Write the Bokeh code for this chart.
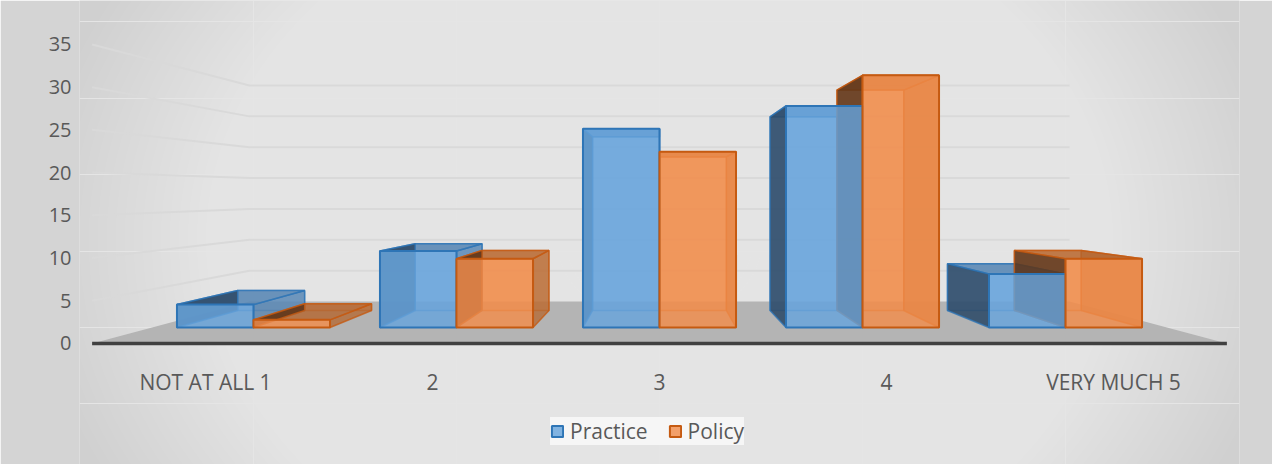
from bokeh.plotting import figure
from bokeh.models import (FactorRange, Range1d, LinearAxis, FixedTicker, Legend, LegendItem,
                          ColumnDataSource)
from bokeh.core.properties import value
from bokeh.transform import dodge
from bokeh.embed import file_html
from bokeh.resources import INLINE

# ---------------- data ----------------
categories = ["NOT AT ALL 1", "2", "3", "4", "VERY MUCH 5"]
practice = [3, 10, 26, 29, 7]
policy = [1, 9, 23, 33, 9]
series_names = ["Practice", "Policy"]
y_ticks = [0, 5, 10, 15, 20, 25, 30, 35]

# ---------------- layout / style constants ----------------
W, H = 1272, 464
BL, BR = 79, 33
BAR_W = 0.377                 # bar width in category units
VU, VV = 2.5, 17.668          # vanishing point (front-plane coordinates)
F_AXIS, F_BACK, F_WALL = 1.118, 0.874, 0.808   # perspective scale of planes
LABEL_V = -4.45               # category label baseline (axis-plane units)
TXT = "#595959"
FONT = "Open Sans"

styles = {
    "Practice": dict(front="#66a3dc", line="#2e75b6", left="#2c4a68", right="#5583b0", top="#5583b0"),
    "Policy": dict(front="#f28c4a", line="#c55a11", left="#5e3519", right="#b4652e", top="#b4652e"),
}

p = figure(width=W, height=H, output_backend="svg", toolbar_location=None,
           x_range=FactorRange(factors=categories, range_padding=0.3571, range_padding_units="absolute"),
           y_range=Range1d(-17.930, 42.795),
           x_axis_location=None, y_axis_location=None,
           min_border_left=BL, min_border_right=BR, min_border_top=0, min_border_bottom=0,
           background_fill_color="#d0d0d0", border_fill_color="#d4d4d4",
           outline_line_color=None)
p.extra_x_ranges = {"axisx": FactorRange(factors=categories, range_padding=0.0551, range_padding_units="absolute")}
p.extra_y_ranges = {"axisy": Range1d(-14.164, 40.15)}


def proj(u, v, f):
    return VU + f * (u - VU), VV + f * (v - VV)


# ---------------- radial-ish background ----------------
for k in range(60):
    w = 1250 - k * 18
    p.ellipse(x=[VU], y=[11.4], width=[w], height=[w * 0.8], width_units="screen",
              height_units="screen", fill_color="white", fill_alpha=0.037, line_color=None)

# ---------------- floor ----------------
fx, fy = [], []
for (u, f) in [(0, F_AXIS), (5, F_AXIS), (5, F_WALL), (0, F_WALL)]:
    x, y = proj(u, 0, f)
    fx.append(x); fy.append(y)
p.patch(fx, fy, fill_color="#b4b4b4", line_color=None)

# ---------------- wall gridlines ----------------
gx, gy = [], []
for v in y_ticks[1:]:
    pts = [proj(0, v, F_AXIS), proj(0, v, F_WALL), proj(5, v, F_WALL)]
    gx.append([q[0] for q in pts]); gy.append([q[1] for q in pts])
p.multi_line(gx, gy, line_color="#d9d9d9", line_width=2)

# axis line
a0 = proj(0, 0, F_AXIS); a1 = proj(5, 0, F_AXIS)
p.segment(x0=[a0[0]], y0=[a0[1]], x1=[a1[0]], y1=[a1[1]], line_color="#404040", line_width=3.5)


# ---------------- 3D faces of bars ----------------
def faces(values, offset):
    out = {"back": ([], []), "left": ([], []), "right": ([], []), "top": ([], [])}
    for i, h in enumerate(values):
        u0 = i + 0.5 + offset
        u1 = u0 + BAR_W

        def quad(pts):
            return [q[0] for q in pts], [q[1] for q in pts]
        b = quad([proj(u0, 0, F_BACK), proj(u1, 0, F_BACK), proj(u1, h, F_BACK), proj(u0, h, F_BACK)])
        l = quad([(u0, 0), (u0, h), proj(u0, h, F_BACK), proj(u0, 0, F_BACK)])
        r = quad([(u1, 0), (u1, h), proj(u1, h, F_BACK), proj(u1, 0, F_BACK)])
        t = quad([(u0, h), (u1, h), proj(u1, h, F_BACK), proj(u0, h, F_BACK)])
        for key, q in (("back", b), ("left", l), ("right", r), ("top", t)):
            out[key][0].append(q[0]); out[key][1].append(q[1])
    return out


series_vals = {"Practice": (practice, -BAR_W), "Policy": (policy, 0.0)}
all_faces = {s: faces(vals, off) for s, (vals, off) in series_vals.items()}

for s in series_names:
    st = styles[s]
    xs, ys = all_faces[s]["back"]
    p.patches(xs, ys, fill_color=st["front"], fill_alpha=0.35, line_color=st["line"], line_alpha=0.6, line_width=1.3)
for s in series_names:
    st = styles[s]
    for key, alpha in (("right", 0.75), ("top", 0.8), ("left", 0.88)):
        xs, ys = all_faces[s][key]
        p.patches(xs, ys, fill_color=st[key], fill_alpha=alpha, line_color=st["line"], line_alpha=0.8, line_width=1.5)

src = ColumnDataSource(dict(cat=categories, Practice=practice, Policy=policy))
front_r = {}
for s in series_names:
    st = styles[s]
    _, off = series_vals[s]
    front_r[s] = p.vbar(x=dodge("cat", off + BAR_W / 2, range=p.x_range), top=s, bottom=0, width=BAR_W,
                        source=src, fill_color=st["front"], fill_alpha=0.82,
                        line_color=st["line"], line_width=2)

# ---------------- category labels (front edge of floor) ----------------
p.text(x="cat", y=LABEL_V, text="cat", source=src, x_range_name="axisx", y_range_name="axisy",
       text_font=value(FONT), text_font_size="21px", text_color=TXT,
       text_align="center", text_baseline="alphabetic")

# ---------------- value axis ----------------
yaxis = LinearAxis(y_range_name="axisy", ticker=FixedTicker(ticks=y_ticks))
yaxis.axis_line_color = None
yaxis.major_tick_line_color = None
yaxis.minor_tick_line_color = None
yaxis.major_tick_out = 0
yaxis.major_tick_in = 0
yaxis.major_label_text_font = FONT
yaxis.major_label_text_font_size = "20px"
yaxis.major_label_text_color = TXT
yaxis.major_label_standoff = 8
p.add_layout(yaxis, "left")

# ---------------- legend ----------------
legend = Legend(items=[LegendItem(label=s, renderers=[front_r[s]]) for s in series_names],
                orientation="horizontal", location=(471, 19))
legend.label_text_font = FONT
legend.label_text_font_size = "21px"
legend.label_text_color = TXT
legend.label_height = 22
legend.label_standoff = 6
legend.glyph_width = 14
legend.glyph_height = 14
legend.spacing = 20
legend.padding = 15
legend.margin = 0
legend.background_fill_color = "#f7f7f7"
legend.background_fill_alpha = 0.9
legend.border_line_color = None
p.add_layout(legend)

open("out.html", "w").write(file_html(p, INLINE))
